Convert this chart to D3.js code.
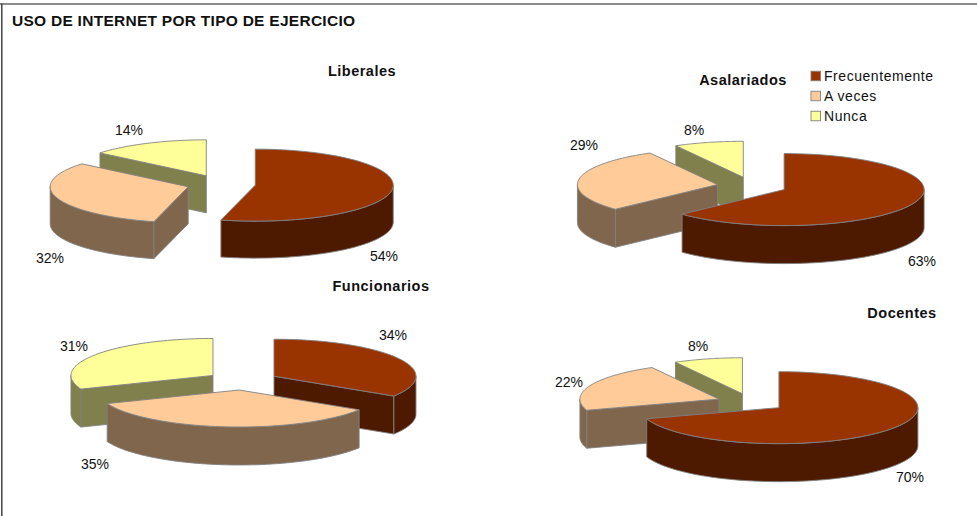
<!DOCTYPE html>
<html><head><meta charset="utf-8">
<script src="https://cdn.jsdelivr.net/npm/d3@7"></script>
<style>
html,body{margin:0;padding:0;background:#fff}
svg{display:block}
text{font-family:"Liberation Sans",Arial,sans-serif;fill:#111}
</style></head><body><svg id="c" width="977" height="516"></svg>
<script>
const chartTitle = "USO DE INTERNET POR TIPO DE EJERCICIO";
const categories = ["Frecuentemente", "A veces", "Nunca"];
const panelNames = ["Liberales", "Asalariados", "Funcionarios", "Docentes"];
const liberales = [54, 32, 14];
const asalariados = [63, 29, 8];
const funcionarios = [34, 35, 31];
const docentes = [70, 22, 8];
const panelValues = [liberales, asalariados, funcionarios, docentes];

// Layout and style live apart from the data.
const topColors = ["#993300", "#FFCC99", "#FFFF99"];
const wallColors = ["#4D1A00", "#80664D", "#80804D"];
const edge = "#808080";
const panelGeom = [
  {cx:221, cy:184, rx:138, ry:36, depth:37, explode:34.5, title:[362,71], labels:[[384,256],[50,258],[129,130]]},
  {cx:752, cy:186, rx:140, ry:36, depth:38, explode:35, title:[743,80], labels:[[922,261],[584,145],[694,130]]},
  {cx:242.6, cy:380.7, rx:142, ry:37, depth:38, explode:35.8, title:[381,286], labels:[[393,335],[95,464],[74,346]]},
  {cx:751, cy:402.4, rx:139, ry:36, depth:38, explode:34.5, title:[902,313], labels:[[910,477],[569,382],[698,346]]}
];
const legendBox = {x:811, y:76, step:20, size:9.5, textX:824};

const svg = d3.select("#c");
svg.append("line").attr("x1",0).attr("x2",977).attr("y1",4).attr("y2",4)
  .attr("stroke","#666").attr("stroke-width",1.3);
svg.append("line").attr("x1",1.8).attr("x2",1.8).attr("y1",3.5).attr("y2",516)
  .attr("stroke","#444").attr("stroke-width",1.5);
svg.append("text").attr("x",12).attr("y",25.5).attr("font-size",15.5).attr("font-weight","bold")
  .style("letter-spacing","0.27px").text(chartTitle);

const pie = d3.pie().sort(null).value(d=>d);
const line = d3.line();

panelValues.forEach((vals,pi)=>{
  const g = panelGeom[pi];
  const arcs = pie(vals).map((a,i)=>{
    const mid=(a.startAngle+a.endAngle)/2;
    const ox=g.cx+Math.sin(mid)*g.explode;
    const oy=g.cy-Math.cos(mid)*g.explode*g.ry/g.rx;
    return {i,a0:a.startAngle,a1:a.endAngle,ox,oy};
  }).sort((p,q)=>p.oy-q.oy);
  const panel = svg.append("g");
  arcs.forEach(s=>{
    const pt=(a,dz=0)=>[s.ox+g.rx*Math.sin(a), s.oy-g.ry*Math.cos(a)+dz];
    const apex=[s.ox,s.oy], apexB=[s.ox,s.oy+g.depth];
    const angles=d3.range(0,61).map(k=>s.a0+(s.a1-s.a0)*k/60);
    const strokeOf=sel=>sel.attr("stroke",edge).attr("stroke-width",0.9).attr("stroke-linejoin","round");
    // radial walls, only those facing the viewer
    const walls=[];
    if(Math.sin(s.a0)<-1e-9) walls.push(s.a0);
    if(Math.sin(s.a1)>1e-9) walls.push(s.a1);
    walls.forEach(a=>{
      panel.append("path").attr("d",line([apex,pt(a),pt(a,g.depth),apexB])+"Z")
        .attr("fill",wallColors[s.i]).call(strokeOf);
    });
    // curved wall (front half only)
    const lo=Math.max(s.a0,Math.PI/2), hi=Math.min(s.a1,3*Math.PI/2);
    if(hi>lo){
      const f=d3.range(0,61).map(k=>lo+(hi-lo)*k/60);
      panel.append("path").attr("d",line([...f.map(a=>pt(a)),...f.slice().reverse().map(a=>pt(a,g.depth))])+"Z")
        .attr("fill",wallColors[s.i]).call(strokeOf);
    }
    // top
    panel.append("path").attr("d",line([apex,...angles.map(a=>pt(a))])+"Z")
      .attr("fill",topColors[s.i]).call(strokeOf);
  });
  // labels
  vals.forEach((v,i)=>{
    panel.append("text").attr("x",g.labels[i][0]).attr("y",g.labels[i][1])
      .attr("text-anchor","middle").attr("dominant-baseline","central")
      .attr("font-size",14).text(v+"%");
  });
  svg.append("text").attr("x",g.title[0]).attr("y",g.title[1])
    .attr("text-anchor","middle").attr("dominant-baseline","central")
    .attr("font-size",14.5).attr("font-weight","bold").style("letter-spacing","0.5px").text(panelNames[pi]);
});

categories.forEach((c,i)=>{
  const y=legendBox.y+i*legendBox.step;
  svg.append("rect").attr("x",legendBox.x).attr("y",y-legendBox.size/2)
    .attr("width",legendBox.size).attr("height",legendBox.size)
    .attr("fill",topColors[i]).attr("stroke",edge).attr("stroke-width",0.9);
  svg.append("text").attr("x",legendBox.textX).attr("y",y)
    .attr("dominant-baseline","central").attr("font-size",14).style("letter-spacing","0.55px").text(c);
});
</script></body></html>
